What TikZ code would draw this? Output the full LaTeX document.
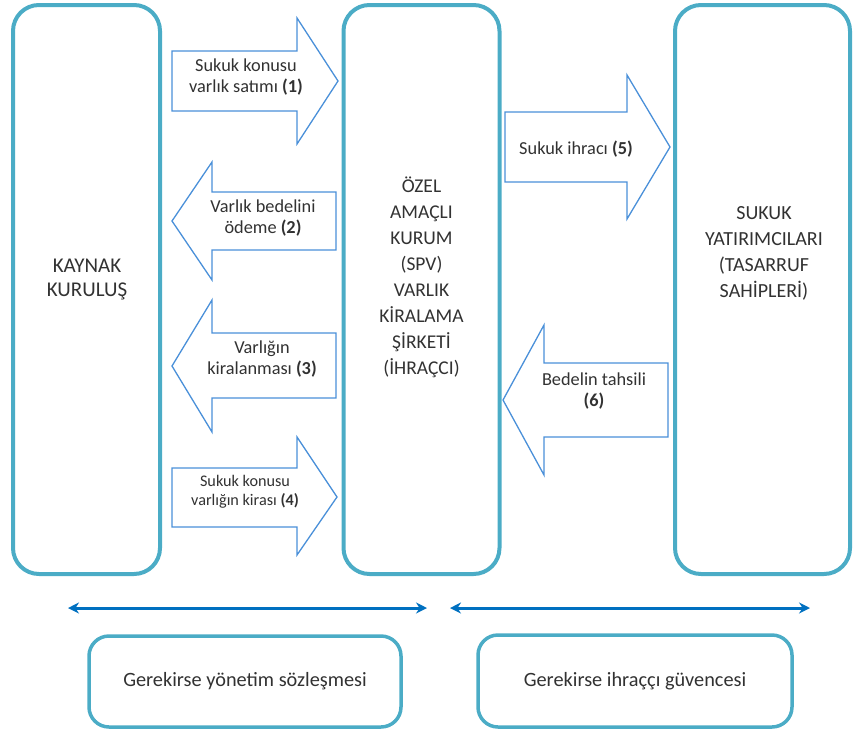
\documentclass[tikz,border=0pt]{standalone}
\usepackage{fontspec}
\setmainfont{Carlito}
\usetikzlibrary{arrows.meta}
\definecolor{sukukTeal}{RGB}{75,172,198}
\definecolor{sukukBlue}{RGB}{74,144,217}
\definecolor{sukukDark}{RGB}{0,112,192}
\definecolor{sukukText}{RGB}{50,50,50}

\begin{document}
\begin{tikzpicture}[x=1pt,y=-1pt,
    party/.style={draw=sukukTeal,line width=4pt,rounded corners=26pt,inner sep=0pt},
    partytext/.style={text=sukukText,font=\fontsize{19.5}{26}\selectfont,align=center},
    flow/.style={draw=sukukBlue,line width=1.3pt,fill=white,line join=miter},
    flowtext/.style={text=sukukText,font=\fontsize{18.3}{21.5}\selectfont,align=center},
    note/.style={draw=sukukTeal,line width=3.5pt,rounded corners=20pt,text=sukukText,font=\fontsize{20.3}{24}\selectfont}]
    \useasboundingbox (0,0) rectangle (853,731);

    % Parties
    \node[party,minimum width=147pt,minimum height=569pt] (kaynak) at (86.5,289.5) {};
    \node[partytext,font=\fontsize{21}{24}\selectfont] (kaynakText) at (87,280) {KAYNAK\\KURULUŞ};
    \node[party,minimum width=156pt,minimum height=569pt] (spv) at (421.5,289.5) {};
    \node[partytext] (spvText) at (421.5,277) {ÖZEL\\AMAÇLI\\KURUM\\(SPV)\\VARLIK\\KİRALAMA\\ŞİRKETİ\\(İHRAÇCI)};
    \node[party,minimum width=175pt,minimum height=569pt] (yatirimci) at (762.5,289.5) {};
    \node[partytext,font=\fontsize{20}{26}\selectfont] (yatirimciText) at (764,253) {SUKUK\\YATIRIMCILARI\\(TASARRUF\\SAHİPLERİ)};

    % Flows between source and SPV
    \draw[flow] (172,51) -- (297,51) -- (297,18) -- (338,81) -- (297,144) -- (297,111) -- (172,111) -- cycle;
    \node[flowtext] (satim) at (246,77) {Sukuk konusu\\varlık satımı \textbf{(1)}};
    \draw[flow] (336,192) -- (212,192) -- (212,162) -- (172,221) -- (212,280) -- (212,250) -- (336,250) -- cycle;
    \node[flowtext] (odeme) at (263,218) {Varlık bedelini\\ödeme \textbf{(2)}};
    \draw[flow] (336,333) -- (212,333) -- (212,300) -- (172,366) -- (212,432) -- (212,398) -- (336,398) -- cycle;
    \node[flowtext] (kiralama) at (262,359) {Varlığın\\kiralanması \textbf{(3)}};
    \draw[flow] (172,468) -- (297,468) -- (297,437) -- (337,497) -- (297,555) -- (297,527) -- (172,527) -- cycle;
    \node[flowtext,font=\fontsize{16.2}{18.5}\selectfont] (kira) at (245,492) {Sukuk konusu\\varlığın kirası \textbf{(4)}};

    % Flows between SPV and investors
    \draw[flow] (505,112) -- (627,112) -- (627,75) -- (670,147) -- (627,219) -- (627,182) -- (505,182) -- cycle;
    \node[flowtext] (ihrac) at (576,149) {Sukuk ihracı \textbf{(5)}};
    \draw[flow] (668,363) -- (544,363) -- (544,325) -- (503,400) -- (544,475) -- (544,437) -- (668,437) -- cycle;
    \node[flowtext] (tahsil) at (594,391) {Bedelin tahsili\\\textbf{(6)}};

    % Optional agreements
    \coordinate (yonetimL) at (68,608);
    \coordinate (yonetimR) at (427,608);
    \coordinate (guvenceL) at (450,608);
    \coordinate (guvenceR) at (810,608);
    \draw[{Stealth[length=11pt,width=11pt]}-{Stealth[length=11pt,width=11pt]},line width=3pt,sukukDark] (yonetimL) -- (yonetimR);
    \draw[{Stealth[length=11pt,width=11pt]}-{Stealth[length=11pt,width=11pt]},line width=3pt,sukukDark] (guvenceL) -- (guvenceR);
    \node[note,minimum width=312pt,minimum height=91pt] (yonetim) at (245,681.5) {Gerekirse yönetim sözleşmesi};
    \node[note,minimum width=314pt,minimum height=92pt] (guvence) at (635,681) {Gerekirse ihraççı güvencesi};
\end{tikzpicture}
\end{document}
